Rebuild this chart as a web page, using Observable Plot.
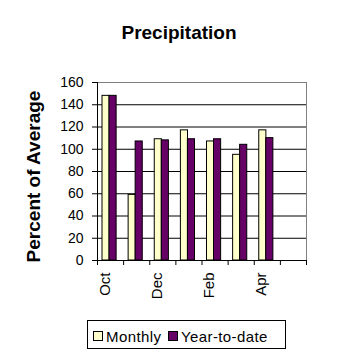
<!DOCTYPE html>
<html>
<head>
<meta charset="utf-8">
<script src="https://cdn.jsdelivr.net/npm/d3@7"></script>
<script src="https://cdn.jsdelivr.net/npm/@observablehq/plot@0.6"></script>
<style>
  html, body { margin: 0; padding: 0; background: #fff; }
  #chart { position: relative; width: 358px; height: 358px; font-family: "Liberation Sans", Arial, sans-serif; }
  #chart svg { position: absolute; left: 0; top: 0; }
  .title { position: absolute; left: 0; width: 358px; top: 23px; text-align: center; font-weight: bold; font-size: 19px; line-height: 19px; }
  .legend { position: absolute; left: 87px; top: 320px; width: 197px; height: 27px; border: 1px solid #000; }
  .sw { position: absolute; width: 8px; height: 8px; border: 1px solid #000; top: 10px; }
  .lt { position: absolute; font-size: 15px; line-height: 15px; top: 8px; letter-spacing: 0.4px; }
</style>
</head>
<body>
<div id="chart"></div>
<script>
const titleText = "Precipitation";
const yLabel = "Percent of Average";
const months = ["Oct", "Nov", "Dec", "Jan", "Feb", "Mar", "Apr", "May"];
const monthly = [148, 59, 109, 117, 107, 95, 117, null];
const yearToDate = [148, 107, 108, 109, 109, 104, 110, null];
const seriesNames = ["Monthly", "Year-to-date"];
const seriesColors = ["#FFFFCC", "#660066"];
const yTicks = [0, 20, 40, 60, 80, 100, 120, 140, 160];
const xLabels = ["Oct", "Dec", "Feb", "Apr"];

const W = 358, H = 358, mL = 97, mR = 52, mT = 82, mB = 98;
const step = (W - mL - mR) / months.length;
const plotH = H - mT - mB;

const rows = [];
months.forEach((m, i) => {
  if (monthly[i] != null) rows.push({month: m, series: seriesNames[0], value: monthly[i]});
  if (yearToDate[i] != null) rows.push({month: m, series: seriesNames[1], value: yearToDate[i]});
});

const font = '"Liberation Sans", Arial, sans-serif';

const plot = Plot.plot({
  width: W, height: H,
  marginLeft: mL, marginRight: mR, marginTop: mT, marginBottom: mB,
  style: {fontFamily: font, background: "transparent", overflow: "visible"},
  x: {type: "band", domain: months, padding: 0, round: false, axis: null},
  y: {domain: [0, 160], axis: null},
  marks: [
    Plot.ruleY(yTicks.filter(d => d > 0 && d < 160), {stroke: "#000"}),
    Plot.frame({stroke: "#808080"}),
    Plot.barY(rows.filter(d => d.series === seriesNames[0]), {x: "month", y: "value", fill: seriesColors[0], stroke: "#000", insetLeft: 5, insetRight: 14}),
    Plot.barY(rows.filter(d => d.series === seriesNames[1]), {x: "month", y: "value", fill: seriesColors[1], stroke: "#000", insetLeft: 12, insetRight: 7}),
    Plot.ruleY([0], {stroke: "#000"}),
    Plot.ruleX([months[0]], {dx: -step / 2, stroke: "#000"}),
    Plot.ruleX(months, {dx: -step / 2, stroke: "#000", insetTop: plotH, insetBottom: -5}),
    Plot.ruleX([months[months.length - 1]], {dx: step / 2, stroke: "#000", insetTop: plotH, insetBottom: -5}),
    Plot.axisY({ticks: yTicks, tickSize: 5, tickPadding: 9, fontSize: 14, label: null}),
    Plot.text(xLabels, {x: d => d, frameAnchor: "bottom", rotate: -90, textAnchor: "end", dy: 12, dx: -1, fontSize: 15, fill: "#000"}),
    Plot.text([yLabel], {frameAnchor: "left", textAnchor: "middle", rotate: -90, dx: -64, dy: 5, fontSize: 19, fontWeight: "bold", fill: "#000"})
  ]
});

const chart = document.getElementById("chart");
chart.appendChild(plot);

const t = document.createElement("div");
t.className = "title";
t.textContent = titleText;
chart.appendChild(t);

const lg = document.createElement("div");
lg.className = "legend";
const swLeft = [5, 80], txtLeft = [18, 93];
seriesNames.forEach((name, i) => {
  const s = document.createElement("div");
  s.className = "sw";
  s.style.left = swLeft[i] + "px";
  s.style.background = seriesColors[i];
  lg.appendChild(s);
  const l = document.createElement("div");
  l.className = "lt";
  l.style.left = txtLeft[i] + "px";
  l.textContent = name;
  lg.appendChild(l);
});
chart.appendChild(lg);
</script>
</body>
</html>
